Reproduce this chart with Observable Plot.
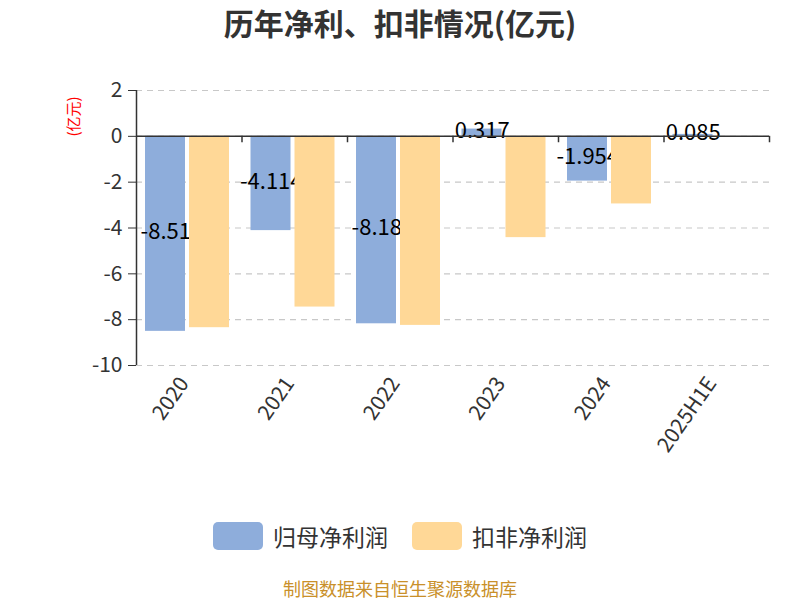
<!DOCTYPE html>
<html>
<head>
<meta charset="utf-8">
<script src="https://cdn.jsdelivr.net/npm/d3@7"></script>
<script src="https://cdn.jsdelivr.net/npm/@observablehq/plot@0.6"></script>
<style>
  body { margin: 0; background: #fff; font-family: "Noto Sans CJK SC", "Noto Sans", sans-serif; }
  #wrap { position: relative; width: 800px; height: 600px; overflow: hidden; }
  #title { position: absolute; left: 0; width: 800px; top: 2px; text-align: center; font-size: 30px; font-weight: bold; color: #333; line-height: 40px; }
  #chart { position: absolute; left: 0; top: 0; }
  #legend { position: absolute; left: 0; width: 800px; top: 520px; display: flex; justify-content: center; gap: 24px; font-size: 23px; color: #333; line-height: 32px; }
  .item { display: flex; align-items: center; gap: 10px; }
  .sw { width: 50px; height: 28px; border-radius: 5px; display: inline-block; }
  #caption { position: absolute; left: 0; width: 800px; top: 578px; text-align: center; font-size: 18px; color: #c9902a; line-height: 20px; }
</style>
</head>
<body>
<div id="wrap">
  <div id="chart"></div>
  <div id="title">历年净利、扣非情况(亿元)</div>
  <div id="legend"></div>
  <div id="caption">制图数据来自恒生聚源数据库</div>
</div>
<script>
const years = ["2020", "2021", "2022", "2023", "2024", "2025H1E"];
const netProfit = [-8.51, -4.114, -8.18, 0.317, -1.954, 0.085];
const netProfitLabels = ["-8.51", "-4.114", "-8.18", "0.317", "-1.954", "0.085"];
const deductedProfit = [-8.35, -7.45, -8.25, -4.42, -2.95, null];
const seriesNames = ["归母净利润", "扣非净利润"];
const colors = ["#8eaddb", "#ffd897"];
const yTicks = [-10, -8, -6, -4, -2, 0, 2];

const blue = years.map((y, i) => ({year: y, value: netProfit[i], label: netProfitLabels[i]}));
const orange = years.map((y, i) => ({year: y, value: deductedProfit[i]})).filter(d => d.value != null);

const W = 800, H = 500, mL = 136, mR = 31;
const band = (W - mL - mR) / years.length;

const plot = Plot.plot({
  width: W, height: H,
  marginLeft: mL, marginRight: mR, marginTop: 90, marginBottom: H - 365,
  style: {fontFamily: '"Noto Sans CJK SC", "Noto Sans", sans-serif', background: "transparent"},
  x: {domain: years, padding: 0, round: false, axis: null},
  y: {domain: [-10, 2], ticks: yTicks},
  marks: [
    Plot.gridY(yTicks, {stroke: "#c8c8c8", strokeOpacity: 1, strokeDasharray: "6,5", strokeWidth: 1.2}),
    Plot.barY(blue, {x: "year", y: "value", fill: colors[0], insetLeft: 9, insetRight: band - 49}),
    Plot.text(blue, {x: "year", y: d => d.value / 2, text: "label", dx: -23.5, dy: -2, fontSize: 22, fill: "#000"}),
    Plot.barY(orange, {x: "year", y: "value", fill: colors[1], insetLeft: 53, insetRight: band - 93}),
    Plot.ruleY([0], {stroke: "#333", strokeWidth: 1.5}),
    Plot.ruleX(years, {x: d => d, dx: band / 2, y1: 0, y2: -0.28, stroke: "#333", strokeWidth: 1.5}),
    Plot.axisY({ticks: yTicks, tickSize: 8, tickPadding: 6, fontSize: 21, color: "#333", label: null, tickFormat: d => String(d).replace("−", "-")}),
    Plot.ruleX([0], {x: () => years[0], dx: -band / 2, y1: -10, y2: 2, stroke: "#333", strokeWidth: 1.5}),
    Plot.text(years, {x: d => d, y: -10, text: d => d, rotate: -55, textAnchor: "end", dy: 14, dx: -5, fontSize: 21, fill: "#333", lineAnchor: "middle"}),
    Plot.text(["(亿元)"], {frameAnchor: "top-left", dx: -68, dy: 26, rotate: -90, text: d => d, fill: "red", fontSize: 15, textAnchor: "middle"})
  ]
});
document.getElementById("chart").appendChild(plot);

const legend = document.getElementById("legend");
seriesNames.forEach((n, i) => {
  const it = document.createElement("div");
  it.className = "item";
  it.innerHTML = `<span class="sw" style="background:${colors[i]}"></span><span>${n}</span>`;
  legend.appendChild(it);
});
</script>
</body>
</html>
